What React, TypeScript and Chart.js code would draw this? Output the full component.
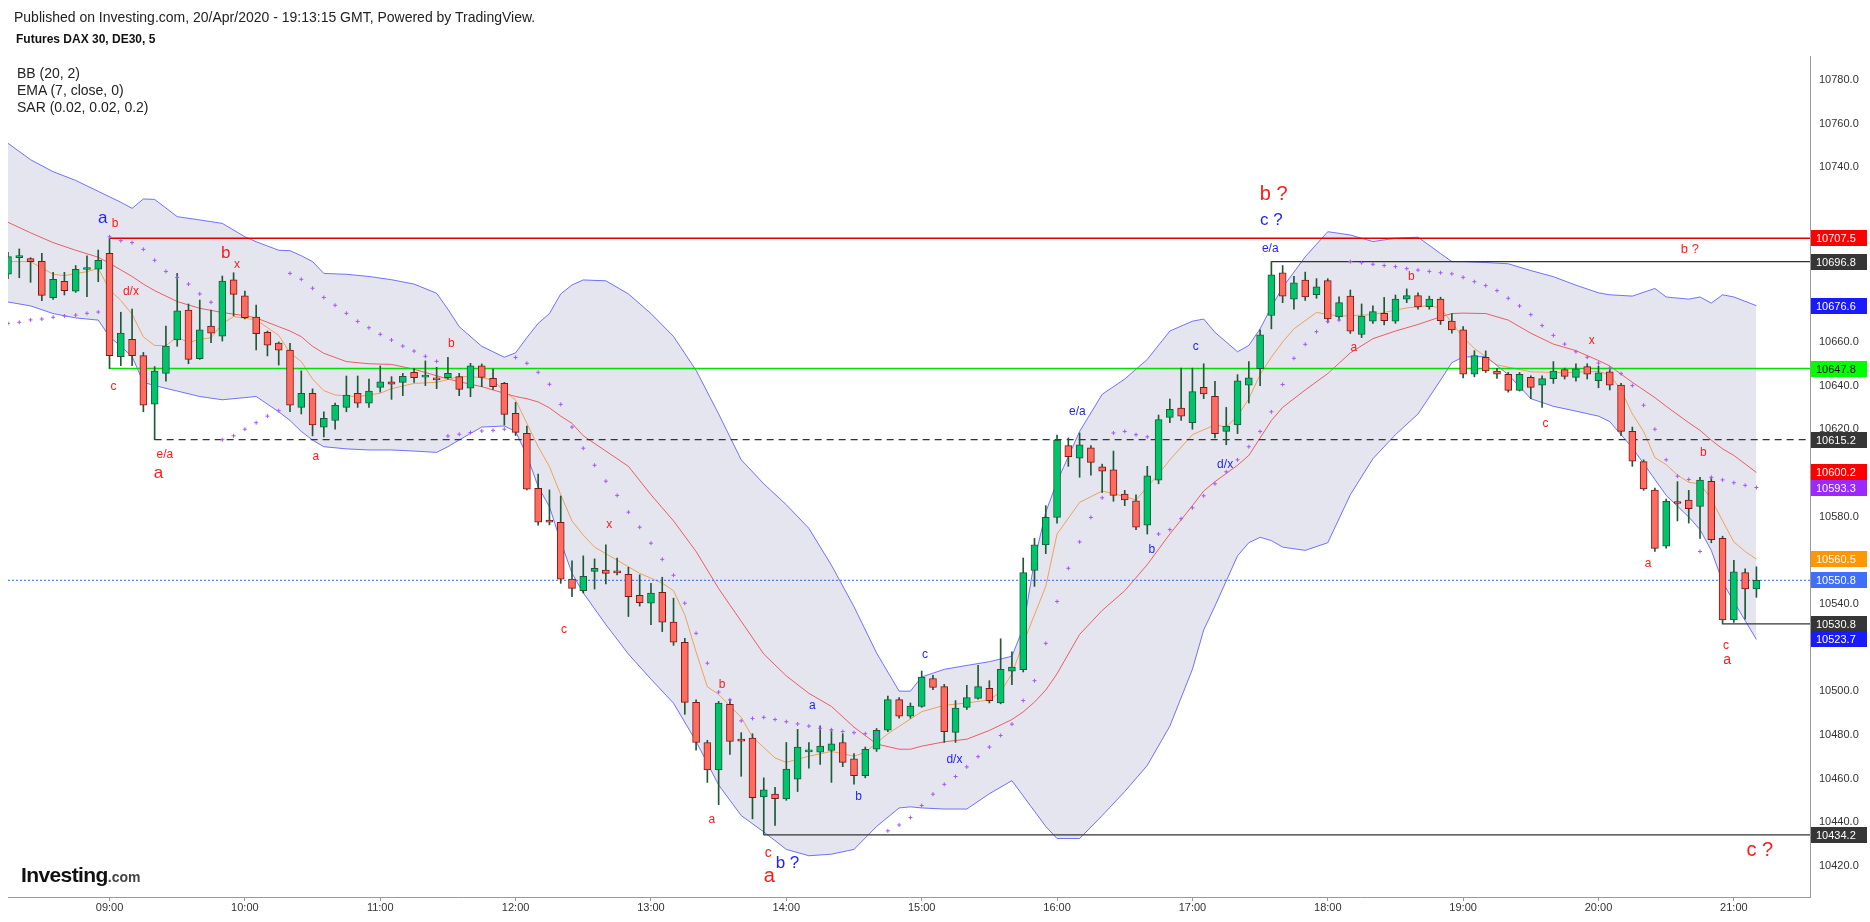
import React, { useEffect, useRef } from "react";
import { Chart, registerables } from "chart.js";

Chart.register(...registerables);

// Bars are numbered in 5-minute steps, 0 = the 09:00 bar.
const FIRST_BAR = -9;

const OPEN = [
  10691.1, 10698.6, 10698.2, 10696.9, 10680.3, 10687.8, 10683.3, 10693.2, 10693.3,
  10700.6, 10653.3, 10661.2, 10653.7, 10631.5, 10645.6, 10660.9, 10674.6, 10652.3, 10667.3,
  10662.6, 10688.4, 10681.1, 10671.4, 10664.4, 10659.5, 10656.3, 10630.0, 10636.5, 10621.0,
  10624.0, 10630.0, 10636.5, 10632.0, 10639.2, 10641.7, 10641.5, 10646.1, 10643.9, 10643.0,
  10643.6, 10644.1, 10638.8, 10649.1, 10643.3, 10641.0, 10627.3, 10618.1, 10592.9, 10578.4,
  10577.4, 10551.3, 10546.1, 10554.9, 10555.5, 10554.6, 10553.5, 10543.9, 10540.3, 10545.3,
  10531.6, 10522.4, 10494.9, 10476.5, 10463.9, 10494.0, 10478.0, 10478.5, 10451.6, 10452.8,
  10450.6, 10459.7, 10472.2, 10472.0, 10472.8, 10476.5, 10469.0, 10461.3, 10473.4, 10482.1,
  10496.1, 10488.6, 10493.0, 10505.8, 10502.1, 10481.1, 10492.6, 10496.7, 10501.3, 10494.6,
  10509.2, 10509.8, 10555.3, 10567.0, 10579.6, 10612.5, 10606.8, 10611.5, 10602.8, 10601.4,
  10590.3, 10587.2, 10576.1, 10596.7, 10625.4, 10629.7, 10623.0, 10639.2, 10635.1, 10619.0,
  10622.0, 10640.2, 10647.7, 10672.1, 10691.7, 10679.6, 10688.3, 10681.6, 10688.1, 10671.5,
  10681.0, 10663.4, 10669.5, 10673.1, 10669.5, 10679.6, 10681.2, 10676.2, 10679.6, 10669.5,
  10665.5, 10645.2, 10652.9, 10646.7, 10645.2, 10637.8, 10643.8, 10640.2, 10643.2, 10647.3,
  10643.8, 10648.7, 10642.2, 10646.3, 10640.2, 10619.0, 10605.2, 10592.1, 10566.4, 10586.6,
  10587.6, 10584.6, 10596.1, 10570.0, 10532.6, 10554.3, 10546.8,
];
const HIGH = [
  10701.0, 10702.6, 10698.6, 10700.6, 10691.9, 10691.9, 10695.0, 10699.4, 10702.1,
  10707.5, 10673.6, 10675.0, 10655.2, 10648.7, 10667.3, 10691.4, 10677.4, 10679.2, 10674.6,
  10690.2, 10691.7, 10683.3, 10676.9, 10665.0, 10660.0, 10659.4, 10646.7, 10638.5, 10628.0,
  10632.0, 10644.4, 10644.4, 10643.0, 10649.0, 10644.1, 10645.6, 10647.9, 10651.3, 10648.4,
  10652.9, 10645.6, 10650.2, 10649.9, 10647.6, 10641.5, 10632.3, 10621.5, 10599.5, 10592.2,
  10589.4, 10559.7, 10562.0, 10560.6, 10567.0, 10561.0, 10556.8, 10553.3, 10549.4, 10552.2,
  10542.6, 10524.2, 10496.0, 10477.5, 10495.3, 10496.3, 10481.0, 10480.5, 10460.3, 10456.0,
  10476.5, 10482.5, 10476.5, 10484.1, 10482.5, 10480.5, 10471.4, 10474.4, 10482.9, 10497.7,
  10497.1, 10494.6, 10509.2, 10507.2, 10503.1, 10495.7, 10502.7, 10511.8, 10504.8, 10524.0,
  10518.0, 10561.0, 10570.0, 10585.0, 10617.3, 10616.0, 10618.3, 10612.5, 10604.0, 10610.0,
  10592.0, 10590.0, 10603.0, 10626.5, 10633.8, 10648.0, 10648.0, 10650.0, 10642.0, 10630.0,
  10645.0, 10651.0, 10665.5, 10696.8, 10695.0, 10690.0, 10692.0, 10689.0, 10689.0, 10680.7,
  10683.8, 10677.4, 10676.5, 10680.4, 10681.5, 10684.3, 10682.5, 10681.0, 10680.5, 10673.0,
  10667.0, 10656.0, 10655.9, 10647.9, 10646.0, 10646.0, 10644.5, 10644.5, 10651.0, 10648.0,
  10650.0, 10650.0, 10649.0, 10648.0, 10641.0, 10621.0, 10606.0, 10593.0, 10588.0, 10596.0,
  10592.0, 10598.0, 10598.0, 10571.0, 10560.0, 10556.0, 10557.0,
];
const LOW = [
  10689.0, 10689.4, 10687.3, 10678.9, 10679.5, 10681.5, 10682.7, 10680.7, 10687.6,
  10647.8, 10649.1, 10649.1, 10628.0, 10615.2, 10642.0, 10658.0, 10650.0, 10652.0, 10659.7,
  10660.4, 10671.9, 10670.5, 10656.3, 10653.6, 10649.4, 10628.0, 10627.0, 10617.0, 10616.5,
  10620.0, 10628.0, 10630.0, 10630.0, 10637.0, 10633.7, 10635.4, 10641.4, 10640.0, 10638.6,
  10642.9, 10635.4, 10634.9, 10639.5, 10638.3, 10621.9, 10617.1, 10592.2, 10576.0, 10576.2,
  10549.4, 10543.3, 10545.0, 10546.8, 10549.1, 10553.3, 10534.2, 10539.0, 10530.5, 10527.3,
  10521.0, 10489.4, 10473.0, 10458.2, 10448.0, 10471.0, 10461.0, 10441.5, 10434.2, 10438.5,
  10450.0, 10454.0, 10464.7, 10466.4, 10458.2, 10465.4, 10457.4, 10460.3, 10472.4, 10481.5,
  10487.6, 10487.6, 10492.6, 10500.7, 10476.5, 10476.5, 10491.6, 10496.3, 10494.6, 10494.2,
  10503.0, 10508.8, 10548.0, 10563.0, 10577.0, 10603.0, 10598.0, 10599.0, 10591.0, 10587.0,
  10585.0, 10574.0, 10572.0, 10595.0, 10623.0, 10624.0, 10620.0, 10634.0, 10616.0, 10612.9,
  10618.0, 10632.0, 10640.0, 10666.0, 10678.0, 10675.0, 10679.0, 10680.0, 10669.0, 10670.1,
  10663.9, 10662.0, 10668.5, 10667.8, 10668.5, 10678.0, 10675.0, 10675.0, 10668.0, 10664.0,
  10643.5, 10644.0, 10646.0, 10643.3, 10637.0, 10637.5, 10634.0, 10630.0, 10641.0, 10643.0,
  10642.0, 10643.0, 10639.0, 10638.0, 10617.0, 10603.0, 10592.0, 10564.0, 10565.5, 10578.0,
  10577.0, 10570.0, 10568.0, 10530.8, 10531.5, 10533.0, 10543.0,
];
const CLOSE = [
  10699.1, 10699.0, 10696.8, 10681.3, 10688.7, 10683.5, 10693.3, 10693.6, 10697.4,
  10653.7, 10664.0, 10653.7, 10631.0, 10646.7, 10658.1, 10674.2, 10652.0, 10665.5, 10664.0,
  10687.9, 10681.8, 10671.1, 10663.8, 10658.5, 10656.2, 10631.0, 10636.5, 10622.0, 10625.0,
  10631.0, 10635.7, 10632.0, 10637.5, 10641.7, 10640.6, 10644.2, 10643.6, 10644.3, 10642.6,
  10645.6, 10638.3, 10649.1, 10643.8, 10639.5, 10626.8, 10618.6, 10592.6, 10577.4, 10577.4,
  10551.3, 10547.1, 10552.6, 10556.3, 10554.0, 10554.2, 10543.3, 10540.6, 10544.9, 10531.6,
  10522.4, 10494.9, 10476.5, 10463.9, 10494.6, 10477.0, 10477.1, 10451.2, 10454.8, 10450.8,
  10464.3, 10474.4, 10472.6, 10474.8, 10475.9, 10467.4, 10461.3, 10473.4, 10482.1, 10496.1,
  10488.6, 10493.2, 10506.4, 10501.7, 10481.5, 10492.2, 10497.1, 10502.1, 10495.7, 10510.0,
  10511.0, 10554.3, 10567.0, 10579.6, 10615.0, 10607.4, 10612.9, 10604.8, 10600.8, 10589.7,
  10587.6, 10575.1, 10598.6, 10624.4, 10629.1, 10626.0, 10637.2, 10636.2, 10618.0, 10621.4,
  10642.2, 10643.6, 10663.2, 10690.7, 10681.0, 10687.1, 10680.6, 10685.3, 10670.5, 10678.0,
  10664.9, 10671.9, 10673.9, 10669.7, 10679.6, 10681.2, 10676.0, 10679.6, 10669.7, 10665.5,
  10645.2, 10653.7, 10646.7, 10645.2, 10637.8, 10645.2, 10639.2, 10643.2, 10646.7, 10644.2,
  10647.7, 10645.2, 10645.9, 10640.2, 10619.0, 10605.4, 10592.7, 10565.4, 10587.0, 10586.0,
  10583.6, 10596.7, 10569.4, 10532.6, 10554.7, 10546.8, 10550.8,
];

// Parabolic SAR, one value per bar
const SAR = [
  10668.5, 10669.0, 10670.1, 10670.5, 10671.3, 10671.9, 10672.3, 10673.1, 10673.7,
  10708.2, 10706.4, 10705.5, 10702.4, 10697.4, 10692.3, 10689.5, 10686.5, 10682.0, 10678.2,
  10615.2, 10617.0, 10620.0, 10623.0, 10626.0, 10628.5, 10691.4, 10688.7, 10684.6, 10680.4,
  10676.8, 10673.1, 10669.4, 10666.5, 10663.5, 10660.9, 10658.1, 10655.8, 10653.4, 10651.1,
  10616.9, 10617.7, 10618.5, 10619.2, 10619.5, 10620.0, 10652.9, 10650.2, 10646.1, 10640.6,
  10631.4, 10621.0, 10611.3, 10603.5, 10596.2, 10589.7, 10582.0, 10575.1, 10567.8, 10560.4,
  10553.1, 10540.3, 10526.5, 10512.8, 10499.6, 10496.0, 10486.4, 10487.5, 10488.0, 10487.0,
  10486.0, 10485.0, 10484.0, 10483.0, 10482.3, 10481.5, 10481.0, 10480.5, 10480.0, 10436.0,
  10438.7, 10442.1, 10447.6, 10452.8, 10457.3, 10460.9, 10465.3, 10470.0, 10474.4, 10479.7,
  10484.9, 10495.7, 10504.8, 10521.9, 10541.1, 10556.3, 10568.4, 10579.6, 10588.6, 10618.3,
  10619.0, 10617.5, 10616.5, 10572.0, 10574.0, 10579.0, 10584.0, 10589.5, 10595.0, 10600.5,
  10606.0, 10612.0, 10619.0, 10628.0, 10640.5, 10652.5, 10658.9, 10664.7, 10669.3, 10670.0,
  10696.8, 10696.3, 10695.6, 10695.0, 10694.5, 10693.6, 10692.9, 10692.3, 10691.7, 10691.2,
  10689.6, 10687.6, 10685.8, 10683.5, 10680.0, 10676.5, 10672.5, 10667.5, 10663.0, 10659.0,
  10655.5, 10653.0, 10650.3, 10648.0, 10645.5, 10640.0, 10631.0, 10620.0, 10606.0, 10598.5,
  10597.0, 10564.0, 10598.0, 10596.8, 10595.5, 10594.3, 10593.3,
];

// Bollinger bands (20, 2), read at these bars
const BB_X = [
  -9, -7, -5, -3, -1, 0, 1, 2, 3, 4, 6, 8, 10, 12, 13, 15, 16, 17, 18, 19, 21, 23, 25, 27, 29,
  30, 31, 33, 35, 36, 37, 38, 39, 40, 41, 42, 44, 46, 48, 50, 52, 54, 56, 58, 60, 62, 64, 66,
  68, 70, 71, 72, 74, 76, 78, 80, 81, 82, 83, 84, 86, 88, 90, 92, 94, 96, 97, 98, 100, 101,
  102, 103, 104, 106, 108, 110, 112, 114, 116, 118, 119, 120, 122, 124, 126, 128, 130, 132,
  133, 135, 137, 138, 140, 141, 142, 143, 144, 146,
];
const BB_UPPER = [
  10751, 10743.5, 10738, 10734, 10729, 10726.5, 10724, 10721.2, 10725.5, 10725.3, 10717.4,
  10715.9, 10714.3, 10708.2, 10705.9, 10702, 10701.8, 10699.5, 10696.8, 10691.4, 10691,
  10690, 10688.5, 10686.5, 10682.3, 10675, 10667, 10658, 10653, 10655, 10662, 10668.5, 10673,
  10682, 10686.1, 10688.4, 10688, 10682, 10673, 10662.5, 10647, 10627, 10606, 10595, 10585.4,
  10574.6, 10557.7, 10538.7, 10517.5, 10500, 10500, 10506.5, 10510, 10511.8, 10513.5, 10516,
  10529, 10560, 10582, 10596, 10619, 10636, 10643, 10652, 10665, 10669.5, 10670.5, 10664.4,
  10655.5, 10658.4, 10666, 10676, 10685, 10699, 10710.5, 10709, 10706, 10707.5, 10708,
  10700.5, 10696.8, 10696.8, 10696.4, 10695.8, 10692.7, 10689.9, 10686, 10682.5, 10681.6,
  10681, 10684.5, 10680.6, 10679.6, 10680.6, 10677.8, 10681.6, 10680.6, 10676.6,
];
const BB_LOWER = [
  10678.3, 10676.5, 10673, 10671, 10670, 10662.4, 10658, 10653.3, 10641.5, 10640, 10637.5,
  10635, 10633.5, 10634.5, 10635, 10628, 10624, 10619, 10615, 10612, 10611, 10610.5, 10610.5,
  10610, 10609.4, 10612, 10615.1, 10621, 10621.5, 10619, 10608, 10593.7, 10584.5, 10568.5,
  10554, 10545, 10530.5, 10517, 10505.5, 10494.5, 10477, 10457, 10443, 10435.5, 10427.5,
  10424.6, 10425.3, 10427.5, 10438, 10446.5, 10447, 10446.5, 10446, 10446, 10453, 10459,
  10452, 10445, 10438, 10432.5, 10432.5, 10443, 10454, 10466, 10484, 10510, 10528, 10539,
  10562, 10568, 10570.5, 10569, 10566, 10564.5, 10568, 10590, 10606.5, 10617.5, 10627,
  10642.5, 10650.5, 10653.1, 10653.3, 10645, 10634, 10630.5, 10628.3, 10626, 10623.5,
  10611.5, 10597, 10589.7, 10579.8, 10574, 10564.5, 10550, 10541, 10523.7,
];
const BB_BASIS = [
  10714.8, 10710, 10705.5, 10702, 10698.8, 10696, 10693, 10690, 10686.5, 10683.5, 10678.5,
  10675.4, 10673.5, 10672, 10671, 10667, 10665, 10662.4, 10658, 10654.8, 10651, 10650,
  10649.7, 10647.5, 10644.5, 10643, 10641.8, 10639.5, 10636.5, 10635, 10634, 10632.5,
  10629.8, 10626, 10622.7, 10617, 10610, 10603, 10590, 10578, 10564, 10547, 10532, 10517,
  10507, 10499, 10493, 10483.5, 10475.8, 10473.4, 10473.4, 10474.8, 10476.8, 10478, 10482,
  10487, 10490.5, 10495, 10500.5, 10508, 10526, 10537, 10546, 10558, 10572, 10585, 10591.7,
  10596, 10603.5, 10608, 10616, 10624, 10630, 10638, 10645.5, 10655, 10661.5, 10665, 10668,
  10671.5, 10673, 10673.2, 10673, 10670, 10664, 10659, 10656, 10651.5, 10649, 10641.5,
  10634.5, 10630.5, 10623, 10619.5, 10615, 10611, 10608, 10600.2,
];

// EMA (7, close), read at these bars
const EMA_X = [
  -9, -7, -5, -4, -2, -1, 0, 1, 2, 3, 4, 5, 6, 7, 8, 9, 10, 11, 13, 15, 16, 17, 18, 19, 20, 22,
  24, 25, 27, 29, 31, 32, 33, 34, 35, 36, 37, 38, 39, 40, 41, 42, 43, 45, 47, 49, 50, 51, 52,
  53, 54, 56, 57, 59, 60, 62, 64, 66, 67, 69, 72, 74, 76, 78, 79, 80, 81, 82, 83, 84, 86, 88,
  90, 91, 93, 94, 96, 98, 99, 100, 101, 102, 103, 104, 105, 107, 109, 112, 115, 117, 118, 120,
  121, 123, 126, 129, 132, 133, 134, 135, 136, 137, 138, 139, 140, 141, 142, 143, 144, 145, 146,
];
const EMA_V = [
  10696.8, 10696.8, 10691, 10690.4, 10692.2, 10693.7, 10684, 10679, 10672.7, 10662.3, 10658.4,
  10658.3, 10662.3, 10659.7, 10661.2, 10661.9, 10668.4, 10671.6, 10670.1, 10663, 10655, 10651,
  10643, 10637.7, 10635.7, 10634.9, 10636.5, 10638.6, 10641, 10641.5, 10644.1, 10644.1,
  10643.6, 10642.6, 10637.2, 10633.4, 10622.7, 10612, 10602.9, 10590, 10578, 10571.5, 10566,
  10560, 10554, 10549.5, 10546, 10535, 10518, 10502, 10498.5, 10488, 10479, 10469.4, 10467.4,
  10470.2, 10472.4, 10470.2, 10472, 10480.5, 10490.6, 10493.5, 10494.6, 10496, 10499.7, 10508,
  10522, 10535, 10548, 10572, 10586.5, 10591.7, 10589.2, 10587.6, 10599.5, 10606, 10617.5,
  10622, 10621, 10626, 10634, 10645, 10653, 10660, 10666, 10673.5, 10671.8, 10672.5, 10675.6,
  10676.6, 10675.5, 10662, 10657, 10649.5, 10646.3, 10645.9, 10646.5, 10645, 10638, 10627,
  10619, 10607, 10603.8, 10599, 10595.7, 10595, 10588, 10578, 10568.4, 10564, 10560.5,
];

// Horizontal rays drawn on the chart: price and the bar they start at
const LEVEL_VALUE = [10707.5, 10647.8, 10615.2, 10696.8, 10434.2, 10530.8, 10550.8];
const LEVEL_FROM = [0, 0, 4, 103, 58, 143, -9];

const TIME_TICKS = [0, 12, 24, 36, 48, 60, 72, 84, 96, 108, 120, 132, 144];
const TIME_LABELS = [
  "09:00", "10:00", "11:00", "12:00", "13:00", "14:00", "15:00",
  "16:00", "17:00", "18:00", "19:00", "20:00", "21:00",
];
const PRICE_TICKS = [
  10420, 10440, 10460, 10480, 10500, 10540, 10580, 10620, 10640, 10660, 10740, 10760, 10780,
];

// Price tags on the right axis
const TAG_VALUE = [
  10707.5, 10696.8, 10676.6, 10647.8, 10615.2, 10600.2, 10593.3, 10560.5, 10550.8, 10530.8, 10523.7, 10434.2,
];

// Wave labels written on the chart
const WAVE_TEXT = [
  "a", "b", "d/x", "c", "e/a", "a", "b", "x", "a", "b", "c", "x", "b", "a", "a", "b", "c", "b ?", "a",
  "c", "d/x", "e/a", "b", "c", "d/x", "e/a", "c ?", "b ?", "a", "b", "b ?", "x", "c", "b", "a", "c", "a", "c ?",
];
const WAVE_BAR = [
  -0.6, 0.5, 1.9, 0.35, 4.9, 4.35, 10.3, 11.3, 18.3, 30.3, 40.3, 44.3, 54.3, 53.4, 62.3, 66.4, 58.4, 60.1, 58.5,
  72.3, 74.9, 85.8, 92.4, 96.3, 98.9, 102.9, 103.0, 103.2, 110.3, 115.4, 140.1, 131.4, 127.3, 141.3, 136.4, 143.3, 143.4, 146.3,
];
const WAVE_PRICE = [
  10716.7, 10714.0, 10682.8, 10639.7, 10608.5, 10599.8, 10700.8, 10695.4, 10607.4, 10659.3, 10528.0, 10576.5, 10503.1, 10440.9, 10493.2, 10451.6, 10425.9, 10421.3, 10415.2,
  10516.9, 10468.4, 10628.1, 10565.0, 10658.0, 10603.8, 10702.5, 10715.6, 10727.6, 10657.4, 10690.1, 10702.3, 10660.8, 10622.6, 10609.1, 10558.3, 10520.9, 10514.2, 10426.9,
];

// ---------- styles ----------
const FONT = '"Liberation Sans", Arial, Helvetica, sans-serif';
const UP = "#00c46b";
const DOWN = "#ff6b5f";
const UP_EDGE = "#1b5a35";
const DOWN_EDGE = "#7a1a14";
const WICK = "#1e5a36";
const RED_TXT = "#ff1a1a";
const BLUE_TXT = "#1f1fff";
const WAVE_STYLE_OF = [
  "bm", "rs", "rs", "rs", "rs", "rm", "rm", "rs", "rs", "rs", "rs", "rs", "rs", "rs", "bs", "bs", "rm2", "bm", "rl",
  "bs", "bs", "bs", "bs", "bs", "bs", "bs", "bm", "rl", "rs", "rs", "rs2", "rs", "rs", "rs", "rs", "rs", "rm2", "rl",
];
const WAVE_STYLES: any = {
  rs: { c: RED_TXT, s: 12, w: "normal" },
  rs2: { c: RED_TXT, s: 13, w: "normal" },
  rm: { c: RED_TXT, s: 17, w: "normal" },
  rm2: { c: RED_TXT, s: 14, w: "normal" },
  rl: { c: RED_TXT, s: 20, w: "normal" },
  bs: { c: BLUE_TXT, s: 12, w: "normal" },
  bm: { c: BLUE_TXT, s: 17, w: "normal" },
};
const LEVEL_STYLE = [
  { c: "#e00000", w: 1.3, d: [] },
  { c: "#00e000", w: 1.5, d: [] },
  { c: "#333333", w: 1.2, d: [7, 5] },
  { c: "#333333", w: 1.3, d: [] },
  { c: "#333333", w: 1.3, d: [] },
  { c: "#333333", w: 1.3, d: [] },
  { c: "#2f62ff", w: 1, d: [2, 2] },
];
const TAG_BG = [
  "#ff0000", "#363636", "#1a1aff", "#00ff00", "#363636", "#ff0000",
  "#9c27ff", "#ff9800", "#3f6ffa", "#363636", "#1a1aff", "#363636",
];
const TAG_FG = [
  "#fff", "#fff", "#fff", "#000", "#fff", "#fff", "#fff", "#fff", "#fff", "#fff", "#fff", "#fff",
];

const X_MIN = -9.0;
const X_MAX = 150.75;
const Y_MIN = 10405.7;
const Y_MAX = 10791.0;

const wavePlugin = {
  id: "waveLabels",
  afterDatasetsDraw(chart: any) {
    const { ctx, scales } = chart;
    ctx.save();
    ctx.textAlign = "center";
    ctx.textBaseline = "middle";
    WAVE_TEXT.forEach((t, k) => {
      const st = WAVE_STYLES[WAVE_STYLE_OF[k]];
      ctx.font = `${st.w} ${st.s}px ${FONT}`;
      ctx.fillStyle = st.c;
      ctx.fillText(t, scales.x.getPixelForValue(WAVE_BAR[k]), scales.y.getPixelForValue(WAVE_PRICE[k]));
    });
    ctx.restore();
  },
};

const tagPlugin = {
  id: "priceTags",
  afterDraw(chart: any) {
    const { ctx, scales, chartArea } = chart;
    ctx.save();
    ctx.font = `11px ${FONT}`;
    ctx.textAlign = "left";
    ctx.textBaseline = "middle";
    TAG_VALUE.forEach((v, k) => {
      const py = Math.round(scales.y.getPixelForValue(v));
      ctx.fillStyle = TAG_BG[k];
      ctx.fillRect(chartArea.right + 1, py - 8, 56, 16);
      ctx.fillStyle = TAG_FG[k];
      ctx.fillText(v.toFixed(1), chartArea.right + 6, py + 0.5);
    });
    ctx.restore();
  },
};

export default function App() {
  const ref = useRef<HTMLCanvasElement>(null);

  useEffect(() => {
    const canvas = ref.current;
    if (!canvas) return;
    const bars = OPEN.map((_, k) => FIRST_BAR + k);
    const up = OPEN.map((o, k) => CLOSE[k] >= o);

    const datasets: any[] = [
      {
        type: "line",
        label: "BB upper",
        data: BB_X.map((x, k) => ({ x, y: BB_UPPER[k] })),
        borderColor: "rgba(70,70,255,0.75)",
        borderWidth: 1,
        pointRadius: 0,
        fill: "+1",
        backgroundColor: "rgba(20,20,120,0.11)",
        order: 20,
      },
      {
        type: "line",
        label: "BB lower",
        data: BB_X.map((x, k) => ({ x, y: BB_LOWER[k] })),
        borderColor: "rgba(70,70,255,0.75)",
        borderWidth: 1,
        pointRadius: 0,
        fill: false,
        order: 19,
      },
      {
        type: "line",
        label: "BB basis",
        data: BB_X.map((x, k) => ({ x, y: BB_BASIS[k] })),
        borderColor: "rgba(235,60,60,0.8)",
        borderWidth: 1,
        pointRadius: 0,
        fill: false,
        order: 18,
      },
      {
        type: "line",
        label: "EMA",
        data: EMA_X.map((x, k) => ({ x, y: EMA_V[k] })),
        borderColor: "rgba(238,150,60,0.85)",
        borderWidth: 1,
        pointRadius: 0,
        fill: false,
        order: 17,
      },
      ...LEVEL_VALUE.map((v, k) => ({
        type: "line",
        label: "level " + v,
        data: [
          { x: LEVEL_FROM[k], y: v },
          { x: X_MAX, y: v },
        ],
        borderColor: LEVEL_STYLE[k].c,
        borderWidth: LEVEL_STYLE[k].w,
        borderDash: LEVEL_STYLE[k].d,
        pointRadius: 0,
        fill: false,
        order: 10,
      })),
      {
        type: "bar",
        label: "wicks",
        data: bars.map((x, k) => ({ x, y: [LOW[k], HIGH[k]] })),
        backgroundColor: WICK,
        borderWidth: 0,
        barThickness: 1,
        grouped: false,
        order: 4,
      },
      {
        type: "bar",
        label: "bodies",
        data: bars.map((x, k) => ({ x, y: [OPEN[k], CLOSE[k]] })),
        backgroundColor: up.map((u) => (u ? UP : DOWN)),
        borderColor: up.map((u) => (u ? UP_EDGE : DOWN_EDGE)),
        borderWidth: 1,
        borderSkipped: false,
        barThickness: 7,
        minBarLength: 2,
        grouped: false,
        order: 3,
      },
      {
        type: "line",
        label: "SAR",
        data: bars.map((x, k) => ({ x, y: SAR[k] })),
        showLine: false,
        pointStyle: "cross",
        pointRadius: 2,
        pointBorderWidth: 1,
        pointBorderColor: "#a855f7",
        pointBackgroundColor: "#a855f7",
        order: 2,
      },
    ];

    const chart = new Chart(canvas, {
      type: "bar",
      data: { datasets },
      plugins: [wavePlugin, tagPlugin],
      options: {
        animation: false,
        responsive: false,
        devicePixelRatio: 1,
        events: [],
        layout: { padding: { left: 8, top: 56, right: 0, bottom: 0 } },
        plugins: { legend: { display: false }, tooltip: { enabled: false } },
        scales: {
          x: {
            type: "linear",
            min: X_MIN,
            max: X_MAX,
            offset: false,
            afterBuildTicks: (s: any) => {
              s.ticks = TIME_TICKS.map((v) => ({ value: v }));
            },
            afterFit: (s: any) => {
              s.height = 25;
            },
            grid: { display: true, drawOnChartArea: false, drawTicks: true, tickLength: 4, color: "#9a9a9a", offset: false },
            border: { display: true, color: "#9a9a9a" },
            ticks: {
              autoSkip: false,
              maxRotation: 0,
              padding: 0,
              color: "#333",
              font: { family: FONT, size: 11 },
              callback: (v: any) => {
                const k = TIME_TICKS.indexOf(Number(v));
                return k >= 0 ? TIME_LABELS[k] : "";
              },
            },
          },
          y: {
            type: "linear",
            position: "right",
            min: Y_MIN,
            max: Y_MAX,
            afterBuildTicks: (s: any) => {
              s.ticks = PRICE_TICKS.map((v) => ({ value: v }));
            },
            afterFit: (s: any) => {
              s.width = 60;
            },
            grid: { display: true, drawOnChartArea: false, drawTicks: false },
            border: { display: true, color: "#9a9a9a" },
            ticks: {
              padding: 9,
              color: "#333",
              font: { family: FONT, size: 11 },
              callback: (v: any) => Number(v).toFixed(1),
            },
          },
        },
      } as any,
    } as any);
    return () => chart.destroy();
  }, []);

  const txt: any = { position: "absolute", whiteSpace: "nowrap", fontFamily: FONT, lineHeight: "16px" };
  return (
    <div style={{ position: "absolute", left: 0, top: 0, width: 1870, height: 922, background: "#fff", overflow: "hidden" }}>
      <canvas ref={ref} width={1870} height={922} style={{ position: "absolute", left: 0, top: 0, width: 1870, height: 922 }} />
      <div style={{ ...txt, left: 14, top: 9, fontSize: 14, color: "#222" }}>
        Published on Investing.com, 20/Apr/2020 - 19:13:15 GMT, Powered by TradingView.
      </div>
      <div style={{ ...txt, left: 16, top: 31, fontSize: 12, fontWeight: "bold", color: "#111" }}>Futures DAX 30, DE30, 5</div>
      <div style={{ ...txt, left: 17, top: 65, fontSize: 14, color: "#222" }}>BB (20, 2)</div>
      <div style={{ ...txt, left: 17, top: 82, fontSize: 14, color: "#222" }}>EMA (7, close, 0)</div>
      <div style={{ ...txt, left: 17, top: 99, fontSize: 14, color: "#222" }}>SAR (0.02, 0.02, 0.2)</div>
      <div style={{ ...txt, left: 21, top: 863, lineHeight: "24px", color: "#111" }}>
        <span style={{ fontSize: 21, fontWeight: "bold", letterSpacing: -0.6 }}>Investing</span>
        <span style={{ fontSize: 14, fontWeight: "bold", color: "#444" }}>.com</span>
      </div>
    </div>
  );
}
